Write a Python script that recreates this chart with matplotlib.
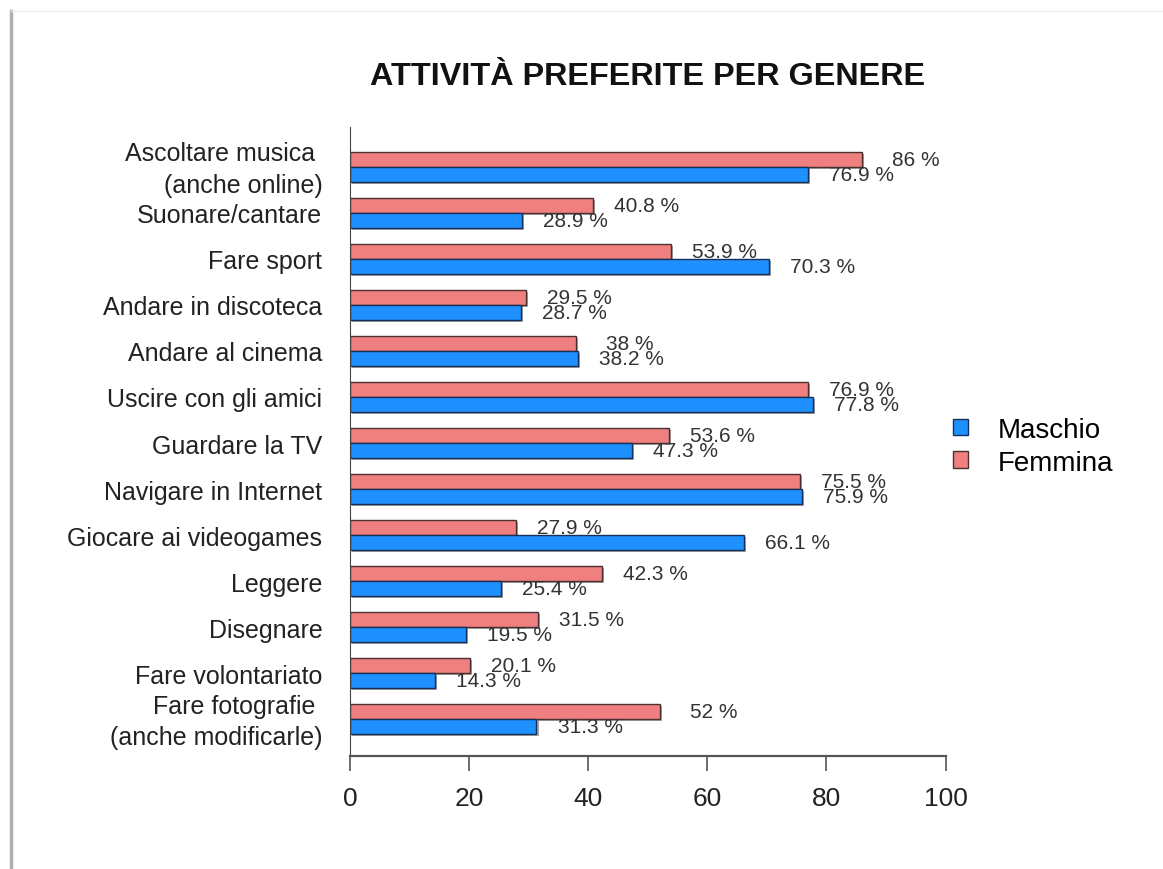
import numpy as np
import matplotlib
matplotlib.use("Agg")
import matplotlib.pyplot as plt
import matplotlib.patheffects as pe
import matplotlib.transforms as mtransforms
from matplotlib.lines import Line2D
from matplotlib.patches import Patch

plt.rcParams['font.family'] = ['Liberation Sans', 'DejaVu Sans']

categories = ["Ascoltare musica \n(anche online)", "Suonare/cantare", "Fare sport",
              "Andare in discoteca", "Andare al cinema", "Uscire con gli amici",
              "Guardare la TV", "Navigare in Internet", "Giocare ai videogames",
              "Leggere", "Disegnare", "Fare volontariato",
              "Fare fotografie \n(anche modificarle)"]
maschio = [76.9, 28.9, 70.3, 28.7, 38.2, 77.8, 47.3, 75.9, 66.1, 25.4, 19.5, 14.3, 31.3]
femmina = [86, 40.8, 53.9, 29.5, 38, 76.9, 53.6, 75.5, 27.9, 42.3, 31.5, 20.1, 52]
x_ticks = [0, 20, 40, 60, 80, 100]

blue = "#1E90FF"
pink = "#F08080"
text_col = "#333333"

fig = plt.figure(figsize=(11.63, 8.70), dpi=100)
ax = fig.add_axes([0.301, 0.130, 0.512, 0.723])

y = np.arange(len(categories))
h = 0.33
shadow = [pe.SimplePatchShadow(offset=(1.5, -1.5), shadow_rgbFace='#808080', alpha=0.7), pe.Normal()]

ax.barh(y - h / 2, femmina, height=h, color=pink, edgecolor="#4a3030", linewidth=1.0,
        path_effects=shadow)
ax.barh(y + h / 2, maschio, height=h, color=blue, edgecolor="#15305a", linewidth=1.0,
        path_effects=shadow)

# value labels, as in the original they may overlap when the two values are close
for i in range(len(categories)):
    ax.text(femmina[i] + 9, y[i] - h / 2, f"{femmina[i]:g} %", ha='center', va='center',
            fontsize=15, color=text_col)
    ax.text(maschio[i] + 9, y[i] + h / 2, f"{maschio[i]:g} %", ha='center', va='center',
            fontsize=15, color=text_col)

ax.set_xlim(0, 100)
ax.set_ylim(12.80, -0.87)
ax.set_yticks(y)
ax.set_yticklabels(categories, fontsize=18, color="#222222", multialignment='right',
                   linespacing=1.4)
ax.tick_params(axis='y', length=0, pad=20)
# two-line labels sit a little higher
shift = mtransforms.ScaledTranslation(0, 4 / 100, fig.dpi_scale_trans)
for lab in ax.get_yticklabels():
    if "\n" in lab.get_text():
        lab.set_transform(lab.get_transform() + shift)

ax.set_xticks(x_ticks)
ax.set_xticklabels([str(t) for t in x_ticks], fontsize=19, color="#222222")
ax.tick_params(axis='x', length=11, width=1.2, color="#555555", pad=11)

ax.spines['top'].set_visible(False)
ax.spines['right'].set_visible(False)
ax.spines['left'].set_color("#444444")
ax.spines['bottom'].set_color("#555555")
ax.spines['bottom'].set_linewidth(1.6)
ax.spines['bottom'].set_bounds(0, 100)

fig.text(0.557, 0.911, "ATTIVITÀ PREFERITE PER GENERE", ha='center', va='center',
         fontsize=23.3, fontweight='bold', color="#111111")

handles = [Patch(facecolor=blue, edgecolor="#15305a", label="Maschio"),
           Patch(facecolor=pink, edgecolor="#4a3030", label="Femmina")]
fig.legend(handles=handles, loc='center left', bbox_to_anchor=(0.798, 0.486), frameon=False,
           fontsize=20, handlelength=0.55, handleheight=0.55, handletextpad=1.05, labelspacing=0.25)

# border lines of the original screenshot
fig.add_artist(Line2D([0.0095, 0.0095], [0.0, 0.986], color="#b0b0b0", linewidth=2.5))
fig.add_artist(Line2D([0.0095, 1.0], [0.986, 0.986], color="#ececec", linewidth=1))

fig.savefig("out.png", dpi=100)
